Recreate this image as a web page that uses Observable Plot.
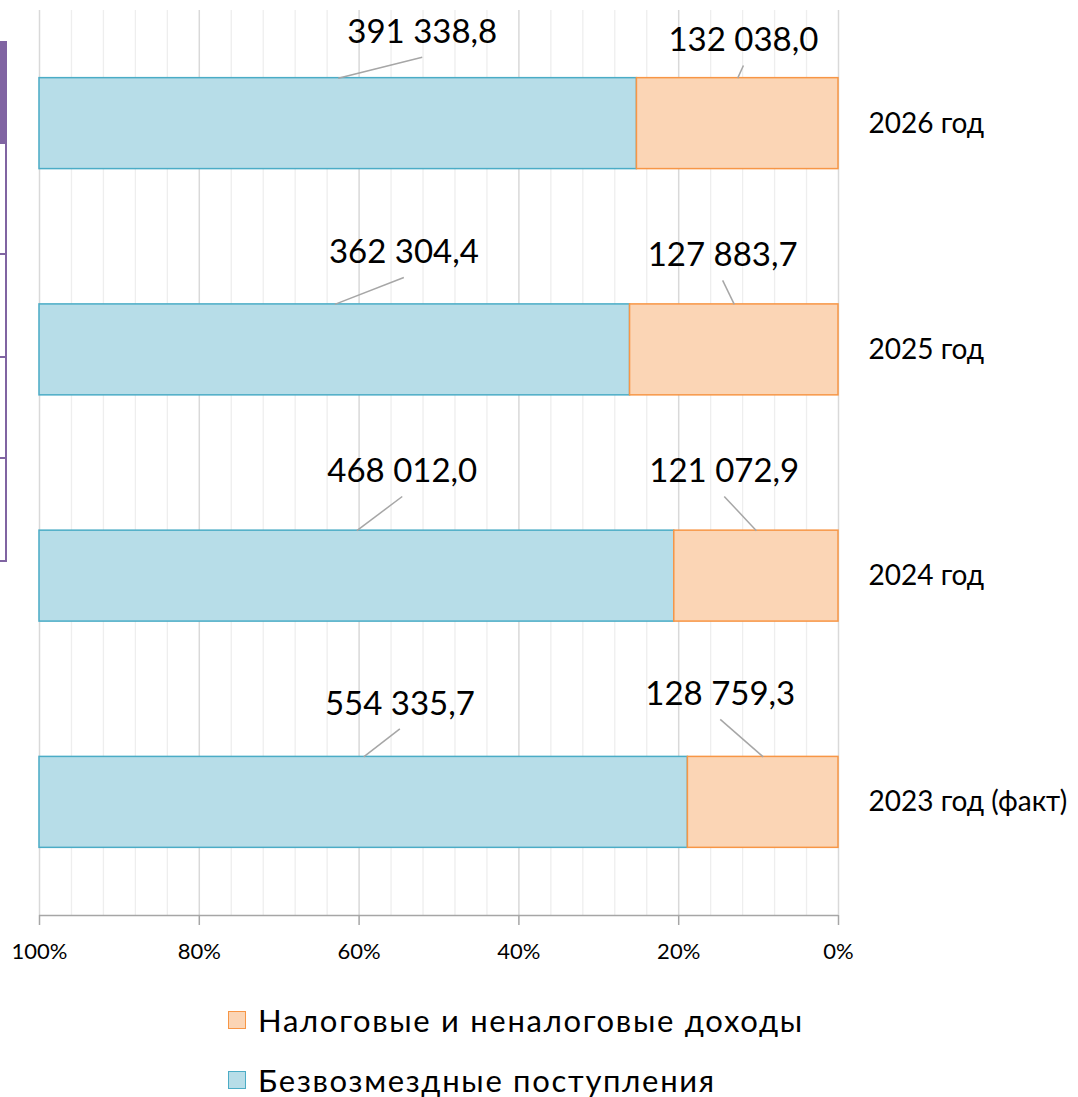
<!DOCTYPE html>
<html>
<head>
<meta charset="utf-8">
<script src="https://cdn.jsdelivr.net/npm/d3@7"></script>
<script src="https://cdn.jsdelivr.net/npm/@observablehq/plot@0.6"></script>
<style>
  html, body { margin: 0; padding: 0; background: #fff; }
  body { width: 1078px; height: 1097px; position: relative; overflow: hidden; font-family: Lato, "Open Sans", sans-serif; }
  #chart { position: absolute; left: 0; top: 0; }
  .legend { position: absolute; left: 228px; top: 990px; }
  .legend .item { display: flex; align-items: center; height: 60px; line-height: 30px; font-size: 31px; letter-spacing: 1.7px; color: #000; }
  .legend .sw { width: 16px; height: 16px; margin-right: 12px; border: 1.5px solid; flex: none; }
  .frag { position: absolute; left: 0; width: 6px; z-index: 5; }
</style>
</head>
<body>
<div id="chart"></div>
<div class="frag" style="top:41px;height:103px;background:#8064a2;width:7px"></div>
<div class="frag" style="top:144px;height:416px;border-right:2px solid #8064a2;border-bottom:2px solid #8064a2;width:5px"></div>
<div class="frag" style="top:253px;height:0;border-top:2px solid #8064a2;width:7px"></div>
<div class="frag" style="top:356px;height:0;border-top:2px solid #8064a2;width:7px"></div>
<div class="frag" style="top:457px;height:0;border-top:2px solid #8064a2;width:7px"></div>
<div class="legend" id="legend"></div>
<script>
// ---- data ----
const categories = ["2026 год", "2025 год", "2024 год", "2023 год (факт)"];
const grants = [391338.8, 362304.4, 468012.0, 554335.7];   // Безвозмездные поступления
const taxes = [132038.0, 127883.7, 121072.9, 128759.3];    // Налоговые и неналоговые доходы
const seriesNames = ["Налоговые и неналоговые доходы", "Безвозмездные поступления"];
const xTicks = [0, 20, 40, 60, 80, 100];

// ---- layout (label anchor positions: [x in %, y offset from row centre in row units]) ----
const grantLabelAt = [[52.1, -0.403], [54.4, -0.43], [54.6, -0.462], [54.9, -0.435]];
const taxLabelAt = [[11.9, -0.367], [14.5, -0.417], [14.3, -0.462], [14.8, -0.477]];

const colors = {
  grantFill: "#b7dde8", grantStroke: "#4bacc6",
  taxFill: "#fbd5b5", taxStroke: "#f79646"
};

const loc = d3.formatLocale({decimal: ",", thousands: " ", grouping: [3]});
const fmt = loc.format(",.1f");

const half = 0.201;
const rows = categories.map((c, i) => {
  const total = grants[i] + taxes[i];
  const taxPct = taxes[i] / total * 100;
  return {c, i, taxPct, grant: grants[i], tax: taxes[i]};
});

const labels = [];
const leaders = [];
rows.forEach(r => {
  const g = grantLabelAt[r.i], t = taxLabelAt[r.i];
  labels.push({x: g[0], y: r.i + g[1], text: fmt(r.grant)});
  labels.push({x: t[0], y: r.i + t[1], text: fmt(r.tax)});
  leaders.push({x1: g[0], y1: r.i + g[1] + 0.11, x2: (r.taxPct + 100) / 2, y2: r.i - half});
  leaders.push({x1: t[0], y1: r.i + t[1] + 0.11, x2: r.taxPct / 2, y2: r.i - half});
});

const minor = d3.range(0, 101, 4).filter(d => d % 20 !== 0);

const plot = Plot.plot({
  width: 1078,
  height: 985,
  marginTop: 10,
  marginBottom: 70,
  marginLeft: 39,
  marginRight: 240,
  style: {fontFamily: 'Lato, "Open Sans", sans-serif', color: "#000", background: "#fff"},
  x: {domain: [0, 100], reverse: true},
  y: {domain: [-0.5, 3.5], reverse: true, axis: null},
  marks: [
    Plot.ruleX(minor, {x: d => d, y1: -0.5, y2: 3.5, stroke: "#eeeeee", strokeWidth: 1.3}),
    Plot.ruleX(xTicks, {x: d => d, y1: -0.5, y2: 3.5, stroke: "#d9d9d9", strokeWidth: 1.5}),
    Plot.rect(rows, {x1: d => d.taxPct, x2: 100, y1: d => d.i - half, y2: d => d.i + half,
      fill: colors.grantFill, stroke: colors.grantStroke, strokeWidth: 1.5}),
    Plot.rect(rows, {x1: 0, x2: d => d.taxPct, y1: d => d.i - half, y2: d => d.i + half,
      fill: colors.taxFill, stroke: colors.taxStroke, strokeWidth: 1.5}),
    Plot.ruleY([3.5], {x1: 0, x2: 100, stroke: "#a6a6a6", strokeWidth: 1.5}),
    Plot.axisX(xTicks, {tickSize: 10, tickPadding: 18, tickFormat: d => d + "%", fontSize: 22,
      stroke: "#a6a6a6", strokeWidth: 1.5, label: null}),
    Plot.link(leaders, {x1: "x1", y1: "y1", x2: "x2", y2: "y2", stroke: "#a6a6a6", strokeWidth: 1.5}),
    Plot.text(labels, {x: "x", y: "y", text: "text", fontSize: 33, fill: "#000", textAnchor: "middle"}),
    Plot.text(rows, {x: 0, y: "i", text: "c", dx: 30, fontSize: 28, fill: "#000", textAnchor: "start"})
  ]
});
document.getElementById("chart").appendChild(plot);

const legend = document.getElementById("legend");
[[seriesNames[0], colors.taxFill, colors.taxStroke], [seriesNames[1], colors.grantFill, colors.grantStroke]]
  .forEach(([name, fill, stroke]) => {
    const item = document.createElement("div");
    item.className = "item";
    const sw = document.createElement("span");
    sw.className = "sw";
    sw.style.background = fill;
    sw.style.borderColor = stroke;
    const t = document.createElement("span");
    t.textContent = name;
    item.appendChild(sw);
    item.appendChild(t);
    legend.appendChild(item);
  });
</script>
</body>
</html>
